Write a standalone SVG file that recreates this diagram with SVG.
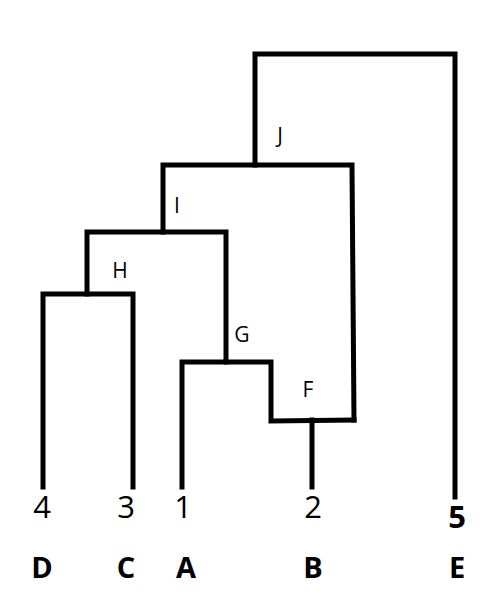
<svg xmlns="http://www.w3.org/2000/svg" width="494" height="596" viewBox="0 0 494 596">
<style>
.l{fill:none;stroke:#000;stroke-width:5;stroke-linejoin:miter;stroke-linecap:square}
.n{font-family:"Open Sans","Liberation Sans",sans-serif;font-size:21px;fill:#000;text-anchor:middle}
.d{font-family:"Open Sans","Liberation Sans",sans-serif;font-size:31px;fill:#000;text-anchor:middle}
.b{font-family:"Open Sans","Liberation Sans",sans-serif;font-size:29px;font-weight:bold;fill:#000;text-anchor:middle}
</style>
<rect width="494" height="596" fill="#fff"/>
<g id="connectors">
<polyline class="l" points="255,165 255,54 455,54 455,497"/>
<polyline class="l" points="163,232 163,165 352,165 354,420"/>
<polyline class="l" points="87,294 87,232 226,232 226,362"/>
<polyline class="l" points="43,487 43,294 133,294 133,487"/>
<polyline class="l" points="182,487 182,362 271,362 271,421 354,420"/>
<polyline class="l" points="312,420 312,487"/>
</g>
<g id="J"><text class="n" x="280" y="143">J</text></g>
<g id="I"><text class="n" x="177" y="213">I</text></g>
<g id="H"><text class="n" x="120" y="278">H</text></g>
<g id="G"><text class="n" x="242" y="342">G</text></g>
<g id="F"><text class="n" x="308" y="397">F</text></g>
<g id="D"><text class="d" x="42" y="518">4</text><text class="b" x="42" y="578">D</text></g>
<g id="C"><text class="d" x="126" y="518">3</text><text class="b" x="126" y="578">C</text></g>
<g id="A"><text class="d" x="183" y="518">1</text><text class="b" x="186" y="578">A</text></g>
<g id="B"><text class="d" x="313" y="518">2</text><text class="b" x="313" y="578">B</text></g>
<g id="E"><text class="d" x="457" y="528" font-weight="bold">5</text><text class="b" x="457" y="578">E</text></g>
</svg>
